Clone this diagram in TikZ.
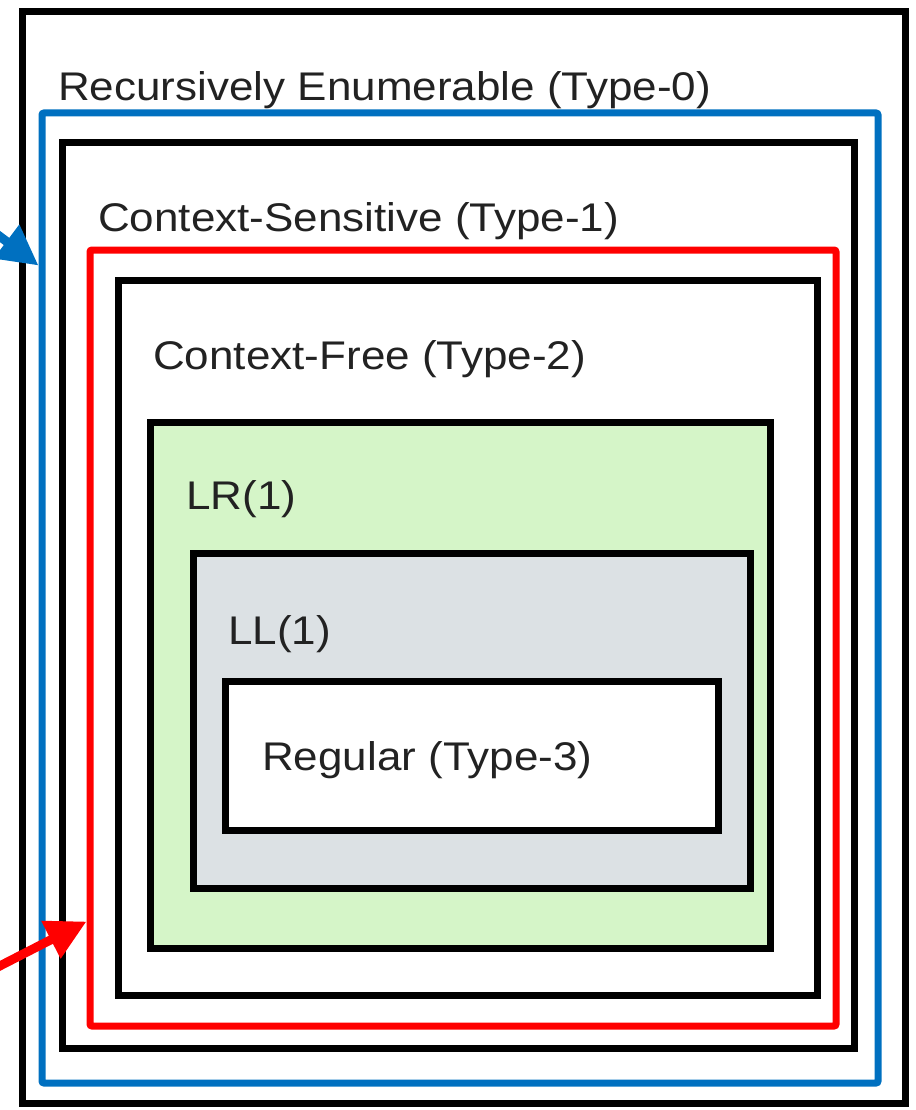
\documentclass[tikz,border=0pt]{standalone}
\usepackage{graphicx}
\usepackage{fontspec}
\setmainfont{Liberation Sans}
\usetikzlibrary{fit,arrows.meta}
\definecolor{myblue}{RGB}{0,112,192}
\definecolor{myred}{RGB}{255,0,0}
\definecolor{mygreen}{RGB}{213,245,200}
\definecolor{mygray}{RGB}{220,225,228}
\definecolor{txt}{RGB}{34,34,34}
\newcommand{\lbl}[1]{\scalebox{1.1}[1]{#1}}
\tikzset{
  blackbox/.style={draw=black, line width=7pt, inner sep=0pt},
  bluebox/.style={draw=myblue, line width=7pt, inner sep=0pt, rounded corners=2pt},
  redbox/.style={draw=myred, line width=7pt, inner sep=0pt, rounded corners=2pt},
  lab/.style={anchor=base west, inner sep=0pt, text=txt, font=\fontsize{40}{48}\selectfont},
  pointer/.style={line width=9pt, -{Triangle[length=40pt,width=40pt]}}
}
\begin{document}
\begin{tikzpicture}[x=1pt,y=-1pt]
\useasboundingbox (0,0) rectangle (915,1110);
% corner coordinates
\coordinate (o1) at (22,12);   \coordinate (o2) at (905,1103);
\coordinate (b1) at (42,113);  \coordinate (b2) at (878,1083);
\coordinate (c1) at (62,143);  \coordinate (c2) at (854,1048);
\coordinate (r1) at (90,250);  \coordinate (r2) at (836,1026);
\coordinate (f1) at (118,280); \coordinate (f2) at (817,995);
\coordinate (g1) at (150,422); \coordinate (g2) at (770,948);
\coordinate (l1) at (193,553); \coordinate (l2) at (750,888);
\coordinate (q1) at (225,681); \coordinate (q2) at (718,830);
% boxes
\node[blackbox, fit=(o1)(o2)] (re) {};
\node[bluebox, fit=(b1)(b2)] (blue) {};
\node[blackbox, fit=(c1)(c2)] (cs) {};
\node[redbox, fit=(r1)(r2)] (red) {};
\node[blackbox, fit=(f1)(f2)] (cf) {};
\node[blackbox, fill=mygreen, fit=(g1)(g2)] (lr) {};
\node[blackbox, fill=mygray, fit=(l1)(l2)] (ll) {};
\node[blackbox, fill=white, fit=(q1)(q2)] (reg) {};
% labels
\node[lab] (tre) at (58,101) {\lbl{Recursively Enumerable (Type-0)}};
\node[lab] (tcs) at (98,231) {\lbl{Context-Sensitive (Type-1)}};
\node[lab] (tcf) at (153,369) {\lbl{Context-Free (Type-2)}};
\node[lab] (tlr) at (186,509) {\lbl{LR(1)}};
\node[lab] (tll) at (228,644) {\lbl{LL(1)}};
\node[lab] (treg) at (262,770) {\lbl{Regular (Type-3)}};
% pointers
\coordinate (bt) at (-14,226);
\coordinate (rt) at (-12,972);
\draw[pointer, myblue] (bt) -- ([yshift=-156pt]blue.north west);
\draw[pointer, myred] (rt) -- ([yshift=-675pt]red.north west);
\end{tikzpicture}
\end{document}
